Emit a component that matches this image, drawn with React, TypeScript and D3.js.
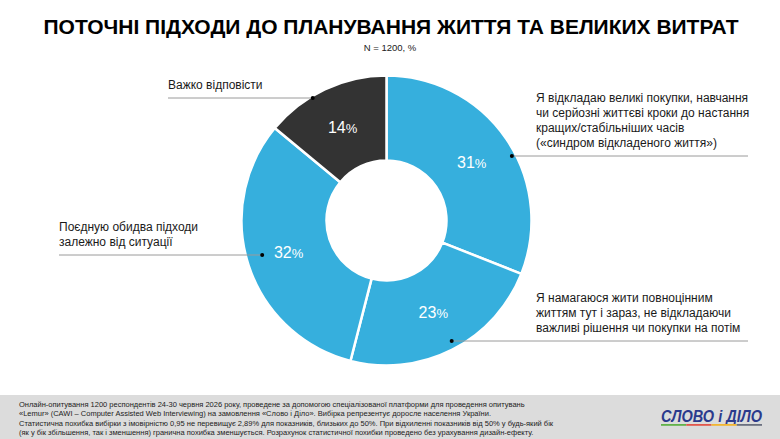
import React from "react";
import * as d3 from "d3";

const W = 780;
const H = 439;

// data
const categories = [
  "Відкладаю",
  "Живу тут і зараз",
  "Поєдную",
  "Важко відповісти",
];
const values = [31, 23, 32, 14];
const colors = ["#36afdd", "#36afdd", "#36afdd", "#333333"];
const labelLines = [
  [
    "Я відкладаю великі покупки, навчання",
    "чи серйозні життєві кроки до настання",
    "кращих/стабільніших часів",
    "(«синдром відкладеного життя»)",
  ],
  [
    "Я намагаюся жити повноцінним",
    "життям тут і зараз, не відкладаючи",
    "важливі рішення чи покупки на потім",
  ],
  ["Поєдную обидва підходи", "залежно від ситуації"],
  ["Важко відповісти"],
];

const footerLines = [
  "Онлайн-опитування 1200 респондентів 24-30 червня 2026 року, проведене за допомогою спеціалізованої платформи для проведення опитувань",
  "«Lemur» (CAWI – Computer Assisted Web Interviewing) на замовлення «Слово і Діло». Вибірка репрезентує доросле населення України.",
  "Статистична похибка вибірки з імовірністю 0,95 не перевищує 2,89% для показників, близьких до 50%. При відхиленні показників від 50% у будь-який бік",
  "(як у бік збільшення, так і зменшення) гранична похибка зменшується. Розрахунок статистичної похибки проведено без урахування дизайн-ефекту.",
];
const logoColors = ["#62b24a", "#e2574c", "#f2b632", "#6b7080"];

// layout of the callouts (line y, radius where the dot sits, text x, line end)
const callouts = [
  { side: 1, y: 156, r: 141, textX: 536, endX: 748 },
  { side: 1, y: 341, r: 137, textX: 536, endX: 748 },
  { side: -1, y: 255, r: 129, textX: 59, endX: 59 },
  { side: -1, y: 98, r: 143, textX: 168, endX: 168 },
];

const cx = 386.5;
const cy = 220.5;
const font = "'Liberation Sans', Arial, sans-serif";

export default function App() {
  const pie = d3
    .pie<number>()
    .sort(null)
    .value((d) => d);
  const arcs = pie(values);
  const arc = d3.arc<d3.PieArcDatum<number>>().innerRadius(60).outerRadius(145);
  const labelArc = d3
    .arc<d3.PieArcDatum<number>>()
    .innerRadius(103)
    .outerRadius(103);

  return (
    <svg
      width={W}
      height={H}
      style={{ position: "absolute", left: 0, top: 0, background: "#fff" }}
      fontFamily={font}
    >
      <text
        x={391}
        y={34}
        textAnchor="middle"
        fontSize={21}
        fontWeight="bold"
        fontFamily="'Liberation Sans Narrow', 'Liberation Sans', Arial, sans-serif"
        textLength={695}
        lengthAdjust="spacingAndGlyphs"
        fill="#000"
      >
        ПОТОЧНІ ПІДХОДИ ДО ПЛАНУВАННЯ ЖИТТЯ ТА ВЕЛИКИХ ВИТРАТ
      </text>
      <text x={390} y={51} textAnchor="middle" fontSize={9.5} fill="#222">
        N = 1200, %
      </text>

      <g transform={`translate(${cx},${cy})`}>
        {arcs.map((a, i) => (
          <path
            key={categories[i]}
            d={arc(a) || ""}
            fill={colors[i]}
            stroke="#fff"
            strokeWidth={2.5}
          />
        ))}
        {arcs.map((a, i) => {
          const [x, y] = labelArc.centroid(a);
          return (
            <text
              key={"v" + i}
              x={x}
              y={y}
              dy="0.36em"
              textAnchor="middle"
              fill="#fff"
              fontSize={16}
            >
              {values[i]}
              <tspan fontSize={13}>%</tspan>
            </text>
          );
        })}
      </g>

      {callouts.map((c, i) => {
        const dy = c.y - cy;
        const dotX = cx + c.side * Math.sqrt(c.r * c.r - dy * dy);
        const lines = labelLines[i];
        return (
          <g key={"c" + i}>
            <line
              x1={dotX}
              x2={c.endX}
              y1={c.y}
              y2={c.y}
              stroke="#9a9a9a"
              strokeWidth={1}
            />
            <circle cx={dotX} cy={c.y} r={2} fill="#000" />
            {lines.map((t, j) => (
              <text
                key={j}
                x={c.textX}
                y={c.y - 9 - 15 * (lines.length - 1 - j)}
                fontSize={12}
                fill="#1a1a1a"
              >
                {t}
              </text>
            ))}
          </g>
        );
      })}

      <rect x={0} y={395} width={W} height={H - 395} fill="#dcdcdc" />
      {footerLines.map((t, i) => (
        <text key={"f" + i} x={19} y={406.5 + i * 9.5} fontSize={7.5} fill="#222">
          {t}
        </text>
      ))}

      <text
        x={661}
        y={422}
        fontSize={16}
        fontWeight="bold"
        fontStyle="italic"
        fill="#2b3a8c"
        textLength={101}
        lengthAdjust="spacingAndGlyphs"
      >
        СЛОВО і ДІЛО
      </text>
      {logoColors.map((col, i) => (
        <rect key={col} x={661 + i * 25.25} y={424} width={25.25} height={1.8} fill={col} />
      ))}
    </svg>
  );
}
